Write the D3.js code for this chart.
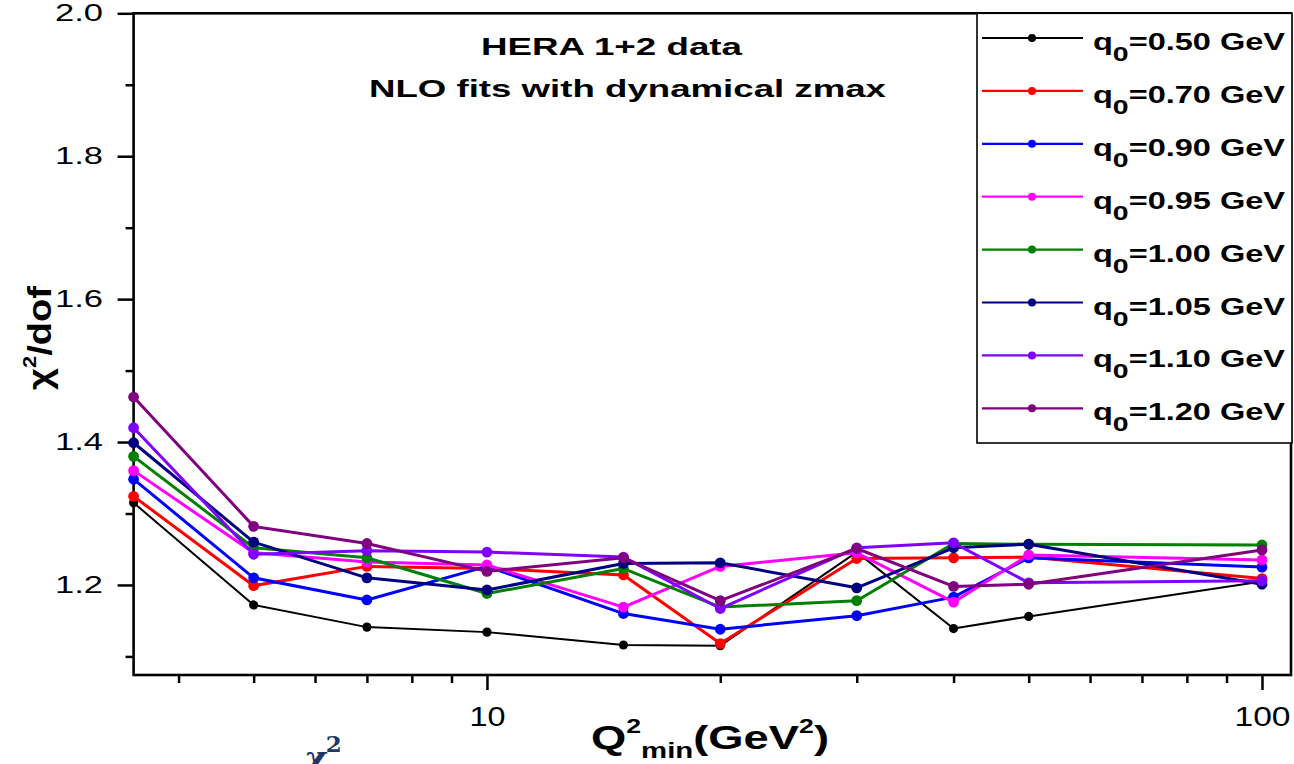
<!DOCTYPE html>
<html><head><meta charset="utf-8">
<script src="https://cdn.jsdelivr.net/npm/d3@7/dist/d3.min.js"></script>
<style>body{margin:0;background:#fff}svg{display:block}</style>
</head><body><svg id="c" width="1294" height="764"></svg>
<script>
// ---- data ----
const qMin = [3.5, 5, 7, 10, 15, 20, 30, 40, 50, 100];
const q0Labels = ["0.50", "0.70", "0.90", "0.95", "1.00", "1.05", "1.10", "1.20"];
const seriesColors = ["#000000", "#ff0000", "#0000ff", "#ff00ff", "#008000", "#000080", "#8000ff", "#800080"];
const chi_q050 = [1.315, 1.172, 1.141, 1.134, 1.116, 1.115, 1.246, 1.139, 1.156, 1.205];
const chi_q070 = [1.324, 1.199, 1.226, 1.223, 1.214, 1.118, 1.237, 1.238, 1.239, 1.209];
const chi_q090 = [1.348, 1.210, 1.179, 1.226, 1.160, 1.138, 1.157, 1.183, 1.238, 1.225];
const chi_q095 = [1.360, 1.245, 1.232, 1.228, 1.169, 1.226, 1.245, 1.176, 1.242, 1.235];
const chi_q100 = [1.380, 1.252, 1.238, 1.188, 1.223, 1.169, 1.178, 1.258, 1.257, 1.256];
const chi_q105 = [1.399, 1.260, 1.210, 1.193, 1.230, 1.231, 1.196, 1.252, 1.257, 1.201];
const chi_q110 = [1.420, 1.243, 1.248, 1.246, 1.239, 1.167, 1.252, 1.259, 1.203, 1.206];
const chi_q120 = [1.463, 1.282, 1.258, 1.219, 1.238, 1.178, 1.251, 1.198, 1.201, 1.249];
const allSeries = [chi_q050, chi_q070, chi_q090, chi_q095, chi_q100, chi_q105, chi_q110, chi_q120];
const yMajorTicks = [1.2, 1.4, 1.6, 1.8, 2.0];
const yMinorTicks = [1.1, 1.3, 1.5, 1.7, 1.9];
const xMajorTicks = [10, 100];
const xMinorTicks = [4, 5, 6, 7, 8, 9, 20, 30, 40, 50, 60, 70, 80, 90];
const titleLines = ["HERA 1+2 data", "NLO fits with dynamical zmax"];

// ---- layout ----
const L = 133.6, R = 1291, T = 13.3, B = 675;
const svg = d3.select("#c");
const font = "'Liberation Sans', Arial, sans-serif";
const x = d3.scaleLog().domain([3.5, 109]).range([L, R]);
const y = d3.scaleLinear().domain([1.074, 2.0]).range([B, T]);

// axes
const gy = svg.append("g").attr("transform", `translate(${L},0)`)
  .call(d3.axisLeft(y).tickValues(yMajorTicks).tickFormat(d3.format(".1f")).tickSize(16).tickPadding(14.6));
gy.append("g").call(d3.axisLeft(y).tickValues(yMinorTicks).tickFormat("").tickSize(8));
const gx = svg.append("g").attr("transform", `translate(0,${B})`)
  .call(d3.axisBottom(x).tickValues(xMajorTicks).tickFormat(d3.format("d")).tickSize(15).tickPadding(17));
gx.append("g").call(d3.axisBottom(x).tickValues(xMinorTicks).tickFormat("").tickSize(8));
svg.selectAll(".domain").remove();
svg.selectAll(".tick line").attr("stroke", "#000").attr("stroke-width", 2.5);
gy.selectAll(".tick text").attr("font-family", font).attr("font-size", 24).attr("fill", "#000")
  .attr("textLength", 48).attr("lengthAdjust", "spacingAndGlyphs");
gx.selectAll(".tick text").attr("font-family", font).attr("font-size", 27).attr("fill", "#000")
  .attr("textLength", d => d === 10 ? 36 : 56).attr("lengthAdjust", "spacingAndGlyphs");

// frame
svg.append("rect").attr("x", L).attr("y", T).attr("width", R - L).attr("height", B - T)
  .attr("fill", "none").attr("stroke", "#000").attr("stroke-width", 2.6);

// series
const line = d3.line().x((d, i) => x(qMin[i])).y(d => y(d));
allSeries.forEach((s, k) => {
  const g = svg.append("g");
  const w = k === 0 ? 2 : 3;
  g.append("path").datum(s).attr("d", line).attr("fill", "none")
    .attr("stroke", seriesColors[k]).attr("stroke-width", w).attr("stroke-linejoin", "round");
  g.selectAll("circle").data(s).join("circle")
    .attr("cx", (d, i) => x(qMin[i])).attr("cy", d => y(d))
    .attr("r", k === 0 ? 4.6 : 5.4).attr("fill", seriesColors[k]);
});

// title
svg.append("text").attr("x", 481).attr("y", 55).attr("font-family", font).attr("font-weight", "bold")
  .attr("font-size", 24).attr("textLength", 261).attr("lengthAdjust", "spacingAndGlyphs").text(titleLines[0]);
svg.append("text").attr("x", 369).attr("y", 97).attr("font-family", font).attr("font-weight", "bold")
  .attr("font-size", 24).attr("textLength", 517).attr("lengthAdjust", "spacingAndGlyphs").text(titleLines[1]);

// legend
svg.append("rect").attr("x", 977).attr("y", T).attr("width", 1292 - 977).attr("height", 443 - T)
  .attr("fill", "#fff").attr("stroke", "#000").attr("stroke-width", 1.6);
q0Labels.forEach((lab, k) => {
  const ly = 38 + k * 52.9;
  svg.append("line").attr("x1", 982).attr("x2", 1083).attr("y1", ly).attr("y2", ly)
    .attr("stroke", seriesColors[k]).attr("stroke-width", 2.2);
  svg.append("circle").attr("cx", 1032).attr("cy", ly).attr("r", 4).attr("fill", seriesColors[k]);
  const t = svg.append("text").attr("x", 1093).attr("y", ly + 12).attr("font-family", font)
    .attr("font-weight", "bold").attr("font-size", 24).attr("textLength", 192).attr("lengthAdjust", "spacingAndGlyphs");
  t.append("tspan").text("q");
  t.append("tspan").attr("dy", 11).attr("font-size", 21).text("0");
  t.append("tspan").attr("dy", -11).text("=" + lab + " GeV");
});

// x axis title
const xt = svg.append("text").attr("x", 591).attr("y", 749).attr("font-family", font).attr("font-weight", "bold")
  .attr("font-size", 34).attr("textLength", 238).attr("lengthAdjust", "spacingAndGlyphs");
xt.append("tspan").text("Q");
xt.append("tspan").attr("dy", -16).attr("font-size", 20).text("2");
xt.append("tspan").attr("dy", 25).attr("font-size", 22).text("min");
xt.append("tspan").attr("dy", -9).text("(GeV");
xt.append("tspan").attr("dy", -16).attr("font-size", 20).text("2");
xt.append("tspan").attr("dy", 16).text(")");

// y axis title
const yt = svg.append("text").attr("transform", "translate(51,390) rotate(-90)").attr("font-family", font)
  .attr("font-weight", "bold").attr("font-size", 33).attr("textLength", 104).attr("lengthAdjust", "spacingAndGlyphs");
yt.append("tspan").text("χ");
yt.append("tspan").attr("dy", -15).attr("font-size", 19).text("2");
yt.append("tspan").attr("dy", 15).text("/dof");

// stray chi^2 fragment at bottom (cut off in the original too)
const st = svg.append("text").attr("x", 304).attr("y", 770).attr("font-family", "'DejaVu Serif', serif")
  .attr("font-style", "italic").attr("font-weight", "bold").attr("font-size", 33).attr("fill", "#1f3864");
st.append("tspan").text("χ");
st.append("tspan").attr("dy", -18).attr("font-size", 23).attr("font-style", "normal").text("2");
</script></body></html>
